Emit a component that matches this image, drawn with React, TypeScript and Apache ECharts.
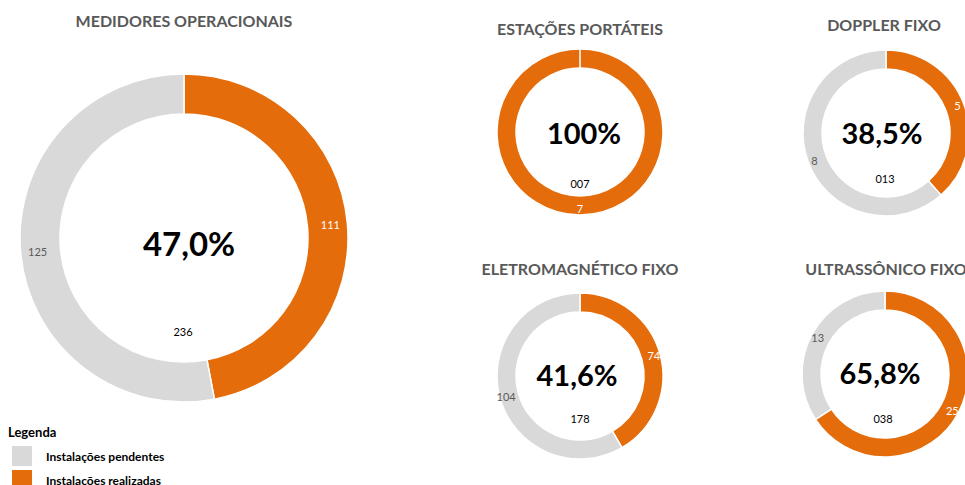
import React, { useEffect, useRef } from "react";
import * as echarts from "echarts";

// ---- data ----
const statusNames = ["Instalações realizadas", "Instalações pendentes"];
const legendOrder = ["Instalações pendentes", "Instalações realizadas"];
const chartTitles = [
  "MEDIDORES OPERACIONAIS",
  "ESTAÇÕES PORTÁTEIS",
  "DOPPLER FIXO",
  "ELETROMAGNÉTICO FIXO",
  "ULTRASSÔNICO FIXO",
];
const realizadas = [111, 7, 5, 74, 25];
const pendentes = [125, 0, 8, 104, 13];
const legendTitle = "Legenda";

// ---- layout / style ----
const ORANGE = "#E46C0A";
const GRAY = "#D9D9D9";
const FONT = "Lato, 'Open Sans', sans-serif";

const layouts = [
  { c: [184, 238], r: [124, 164], title: [184, 20], pct: [189, 243], pctSize: 33, total: [183, 331] },
  { c: [580, 132], r: [64, 83], title: [580, 28], pct: [584, 132], pctSize: 29, total: [580, 183] },
  { c: [886, 133], r: [64, 83], title: [884, 24], pct: [882, 132], pctSize: 29, total: [885, 178] },
  { c: [580, 376], r: [64, 83], title: [580, 268], pct: [577, 374], pctSize: 29, total: [580, 418] },
  { c: [885, 374], r: [64, 83], title: [886, 268], pct: [880, 372], pctSize: 29, total: [883, 418] },
];

function pctText(done: number, pend: number): string {
  const p = (done / (done + pend)) * 100;
  if (p === 100) return "100%";
  return p.toFixed(1).replace(".", ",") + "%";
}

function txt(x: number, y: number, text: string, font: string, fill: string) {
  return {
    type: "text",
    x,
    y,
    silent: true,
    style: {
      text,
      font,
      fill,
      align: "center",
      verticalAlign: "middle",
      textAlign: "center",
      textVerticalAlign: "middle",
    },
  };
}

export default function App() {
  const ref = useRef<HTMLDivElement>(null);
  useEffect(() => {
    if (!ref.current) return;
    const chart = echarts.init(ref.current, undefined, { renderer: "svg" });

    const series = layouts.map((l, i) => ({
      type: "pie",
      name: chartTitles[i],
      center: l.c,
      radius: l.r,
      startAngle: 90,
      clockwise: true,
      avoidLabelOverlap: false,
      animation: false,
      emphasis: { disabled: true },
      itemStyle: { borderColor: "#ffffff", borderWidth: 1.5 },
      labelLine: { show: false },
      label: {
        show: true,
        position: "inside",
        fontSize: 11,
        fontFamily: FONT,
        formatter: (p: any) => (p.value ? String(p.value) : ""),
      },
      data: [
        {
          name: statusNames[0],
          value: realizadas[i],
          itemStyle: { color: ORANGE },
          label: { color: "#ffffff" },
        },
        {
          name: statusNames[1],
          value: pendentes[i],
          itemStyle: { color: GRAY },
          label: { color: "#595959" },
        },
      ],
    }));

    const graphics: any[] = [];
    layouts.forEach((l, i) => {
      graphics.push(txt(l.title[0], l.title[1], chartTitles[i], `bold 16px ${FONT}`, "#595959"));
      graphics.push(txt(l.pct[0], l.pct[1], pctText(realizadas[i], pendentes[i]), `bold ${l.pctSize}px ${FONT}`, "#000000"));
      graphics.push(
        txt(l.total[0], l.total[1], String(realizadas[i] + pendentes[i]).padStart(3, "0"), `11px ${FONT}`, "#000000")
      );
    });
    graphics.push({
      type: "text",
      left: 8,
      top: 425,
      silent: true,
      style: { text: legendTitle, font: `bold 13px ${FONT}`, fill: "#000000" },
    });

    chart.setOption({
      animation: false,
      backgroundColor: "#ffffff",
      legend: {
        data: legendOrder,
        orient: "vertical",
        left: 10,
        top: 444,
        height: 60,
        padding: 0,
        itemGap: 0,
        itemWidth: 22,
        itemHeight: 22,
        icon: "rect",
        selectedMode: false,
        textStyle: { fontFamily: FONT, fontWeight: "bold", fontSize: 12, color: "#000000", padding: [0, 0, 0, 8] },
      },
      graphic: graphics,
      series,
    });
    return () => chart.dispose();
  }, []);
  return (
    <div
      ref={ref}
      style={{ position: "fixed", left: 0, top: 0, width: 965, height: 485, background: "#fff" }}
    />
  );
}
